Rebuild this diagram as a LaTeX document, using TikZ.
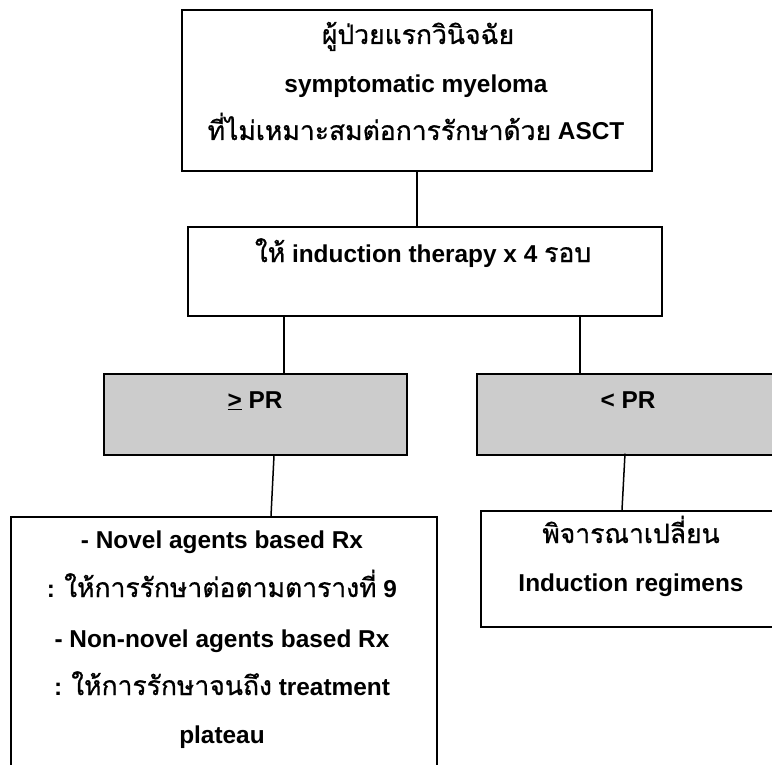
\documentclass[tikz,border=0pt]{standalone}
\usepackage{fontspec}
\setmainfont{Liberation Sans}
\newfontfamily\thaifont[Script=Thai,FakeBold=0.8]{Loma}
\newcommand\thaitxt[1]{{\thaifont\mdseries\fontsize{26.5}{30}\selectfont #1}}
\usetikzlibrary{calc}
\definecolor{boxgray}{HTML}{CCCCCC}
\tikzset{
  boxframe/.style={draw=black, line width=2pt, anchor=north west, inner sep=0pt},
  grayframe/.style={boxframe, fill=boxgray, line width=1.6pt},
  txt/.style={anchor=base, inner sep=0pt, font=\bfseries\fontsize{24.4}{29}\selectfont},
  link/.style={line width=1.5pt},
}
\begin{document}
\begin{tikzpicture}[x=1pt,y=-1pt]
\useasboundingbox (0,0) rectangle (772,765);
\clip (0,0) rectangle (772,765);
% boxes
\node[boxframe, minimum width=470pt, minimum height=161pt] (top) at (181,9) {};
\node[boxframe, minimum width=474pt, minimum height=89pt] (ind) at (187,226) {};
\node[grayframe, minimum width=303pt, minimum height=81pt] (prA) at (103,373) {};
\node[grayframe, minimum width=303pt, minimum height=81pt] (prB) at (476,373) {};
\node[boxframe, minimum width=426pt, minimum height=280pt] (resA) at (10,516) {};
\node[boxframe, minimum width=302pt, minimum height=116pt] (resB) at (480,510) {};
% texts
\node[txt] (t1) at (418,44) {\thaitxt{ผู้ป่วยแรกวินิจฉัย}};
\node[txt] (t2) at (416,93) {symptomatic myeloma};
\node[txt] (t3) at (416,140) {\thaitxt{ที่ไม่เหมาะสมต่อการรักษาด้วย} ASCT};
\node[txt] (t4) at (423,262) {\thaitxt{ให้} induction therapy x 4 \thaitxt{รอบ}};
\node[txt] (t5) at (255,408) {\underline{>} PR};
\node[txt] (t6) at (628,408) {< PR};
\node[txt] (t7) at (222,548) {- Novel agents based Rx};
\node[txt] (t8) at (222,597) {: \thaitxt{ให้การรักษาต่อตามตารางที่} 9};
\node[txt] (t9) at (222,647) {- Non-novel agents based Rx};
\node[txt] (t10) at (222,695) {: \thaitxt{ให้การรักษาจนถึง} treatment};
\node[txt] (t11) at (222,743) {plateau};
\node[txt] (t12) at (631,543) {\thaitxt{พิจารณาเปลี่ยน}};
\node[txt] (t13) at (631,591) {Induction regimens};
% connectors
\draw[link] ($(top.south west)+(236,0)$) coordinate (c0) -- (c0 |- ind.north);
\draw[link] ($(ind.south west)+(97,0)$) coordinate (c1) -- (c1 |- prA.north);
\draw[link] ($(ind.south west)+(393,0)$) coordinate (c2) -- (c2 |- prB.north);
\draw[link] ($(prA.south west)+(171,0)$) -- ($(resA.north west)+(261,0)$);
\draw[link] ($(prB.south west)+(149,-2)$) -- ($(resB.north west)+(142,0)$);
\end{tikzpicture}
\end{document}
